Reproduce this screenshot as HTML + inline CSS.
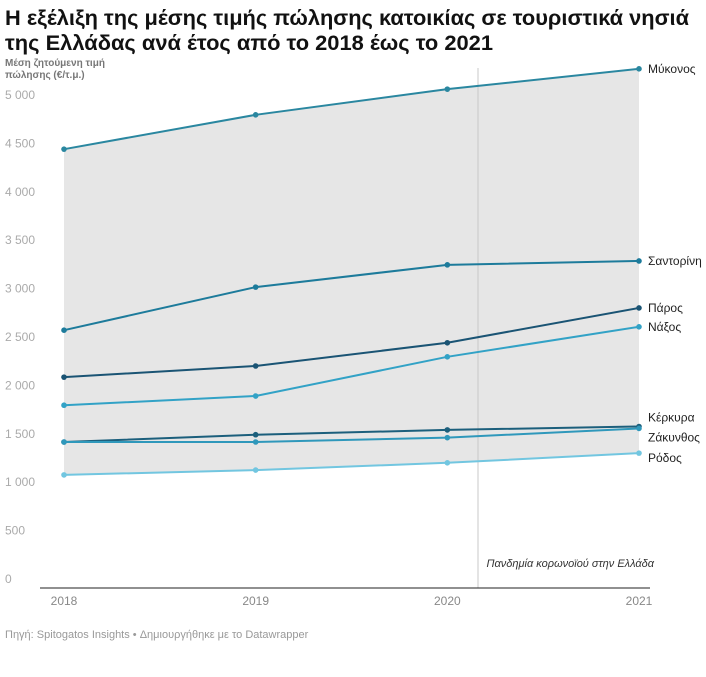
<!DOCTYPE html>
<html><head><meta charset="utf-8"><style>
body{margin:0;background:#fff;font-family:"Liberation Sans","DejaVu Sans",sans-serif;}
svg text{font-family:"Liberation Sans","DejaVu Sans",sans-serif;}
</style></head><body>
<svg id="c" width="706" height="672" viewBox="0 0 706 672" xmlns="http://www.w3.org/2000/svg">
<text x="5" y="25" font-size="21" font-weight="bold" fill="#111" textLength="684" lengthAdjust="spacingAndGlyphs">Η εξέλιξη της μέσης τιμής πώλησης κατοικίας σε τουριστικά νησιά</text>
<text x="5" y="50" font-size="21" font-weight="bold" fill="#111" textLength="488" lengthAdjust="spacingAndGlyphs">της Ελλάδας ανά έτος από το 2018 έως το 2021</text>
<text x="5" y="66" font-size="10" font-weight="bold" fill="#777">Μέση ζητούμενη τιμή</text>
<text x="5" y="78" font-size="10" font-weight="bold" fill="#777">πώλησης (€/τ.μ.)</text>
<g id="g"></g>
<text x="5" y="638" font-size="11" fill="#999">Πηγή: Spitogatos Insights • Δημιουργήθηκε με το Datawrapper</text>
</svg>
<script>
const years=[2018,2019,2020,2021];
const islands=["Μύκονος","Σαντορίνη","Πάρος","Νάξος","Κέρκυρα","Ζάκυνθος","Ρόδος"];
const mykonos=[4430,4785,5050,5260];
const santorini=[2560,3005,3235,3275];
const paros=[2075,2190,2430,2790];
const naxos=[1785,1880,2285,2595];
const kerkyra=[1405,1480,1530,1565];
const zakynthos=[1405,1405,1450,1545];
const rodos=[1065,1115,1190,1290];
const yTicks=[0,500,1000,1500,2000,2500,3000,3500,4000,4500,5000];
const yTickLabels=["0","500","1 000","1 500","2 000","2 500","3 000","3 500","4 000","4 500","5 000"];
const pandemicYear=2020.16;
const series=[mykonos,santorini,paros,naxos,kerkyra,zakynthos,rodos];
const colors=["#2a87a0","#1d7b9b","#1a5474","#32a2c6","#1c5f7c","#2f98bb","#72c6e0"];
const labelDy=[0,0,0,0,-9,9,5];
const ns="http://www.w3.org/2000/svg";
const g=document.getElementById('g');
const x=v=>64+(v-2018)*(639-64)/3;
const y=v=>578-v*(578-94)/5000;
function el(t,a,p){const e=document.createElementNS(ns,t);for(const k in a)e.setAttribute(k,a[k]);(p||g).appendChild(e);return e;}
yTicks.forEach((t,i)=>{const e=el('text',{x:5,y:y(t)+5,'font-size':12,fill:'#aaa'});e.textContent=yTickLabels[i];

});
const topPts=years.map((yr,i)=>x(yr)+','+y(Math.max(...series.map(s=>s[i]))));
const botPts=years.map((yr,i)=>x(yr)+','+y(Math.min(...series.map(s=>s[i])))).reverse();
const area=el('polygon',{points:topPts.concat(botPts).join(' '),fill:'#e6e6e6'});


const vl=el('line',{x1:x(pandemicYear),x2:x(pandemicYear),y1:68,y2:588,stroke:'#c8c8c8','stroke-width':1});


const pt=el('text',{x:654,y:567,'font-size':11,'font-style':'italic','text-anchor':'end',fill:'#333'});pt.textContent='Πανδημία κορωνοϊού στην Ελλάδα';


const bl=el('line',{x1:40,x2:650,y1:588,y2:588,stroke:'#222','stroke-width':1});


years.forEach(yr=>{const e=el('text',{x:x(yr),y:605,'font-size':12,fill:'#888','text-anchor':'middle'});e.textContent=yr;

});
series.forEach((s,k)=>{
 const pl=el('polyline',{points:s.map((v,i)=>x(years[i])+','+y(v)).join(' '),fill:'none',stroke:colors[k],'stroke-width':2});
 
 
 s.forEach((v,i)=>{const c=el('circle',{cx:x(years[i]),cy:y(v),r:2.8,fill:colors[k]});
 
 });
 const t=el('text',{x:648,y:y(s[3])+4+labelDy[k],'font-size':12,fill:'#222'});t.textContent=islands[k];
 
 
});
</script>
</body></html>
